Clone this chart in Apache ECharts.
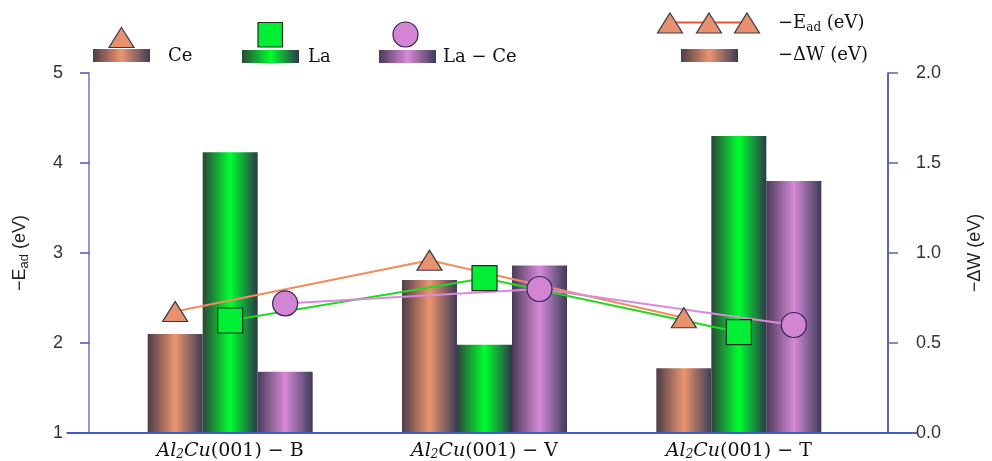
<!DOCTYPE html>
<html>
<head>
<meta charset="utf-8">
<script src="https://cdn.jsdelivr.net/npm/echarts@6/dist/echarts.min.js"></script>
<style>
  html, body { margin: 0; padding: 0; background: #ffffff; }
  #chart { width: 992px; height: 461px; }
</style>
</head>
<body>
<div id="chart"></div>
<script>
// Adsorption sites on the Al2Cu(001) surface
const sites = ['B', 'V', 'T'];
const dopants = ['Ce', 'La', 'La − Ce'];

// −ΔW (eV), drawn as bars on the right axis
const dWCe = [0.55, 0.85, 0.36];
const dWLa = [1.56, 0.49, 1.65];
const dWLaCe = [0.34, 0.93, 1.40];

// −E_ad (eV), drawn as marker lines on the left axis
const eadCe = [2.35, 2.92, 2.28];
const eadLa = [2.25, 2.72, 2.12];
const eadLaCe = [2.44, 2.60, 2.20];

// Axis ranges
const leftMin = 1, leftMax = 5, leftStep = 1;
const rightMin = 0, rightMax = 2, rightStep = 0.5;

const chart = echarts.init(document.getElementById('chart'));
const G = echarts.graphic;

function barGrad(edgeL, mid, edgeR) {
  return new G.LinearGradient(0, 0, 1, 0, [
    { offset: 0, color: edgeL },
    { offset: 0.5, color: mid },
    { offset: 1, color: edgeR }
  ]);
}
const palette = {
  Ce:   { bar: ['#4e3d48', '#ec946f', '#3e3d58'], mark: '#e8916e', line: '#f08c5e', border: '#3a3a4a' },
  La:   { bar: ['#2c4638', '#00ff2e', '#2c3848'], mark: '#00ee33', line: '#22d822', border: '#1c2e1c' },
  LaCe: { bar: ['#4b3a58', '#d68ad6', '#3d3b5a'], mark: '#d384d3', line: '#d98ad9', border: '#2a2458' }
};

// Data grid geometry
const dataLeft = 103, dataRight = 126, gridTop = 73, gridBottom = 28;
const barW = 55;
const bandPx = (992 - dataLeft - dataRight) / sites.length;
const shift = barW / bandPx; // one bar width in category units

function linePoints(vals, k) {
  return vals.map((v, i) => [i + 0.5 + (k - 1) * shift, v]);
}

const serif = '"DejaVu Serif", "Liberation Serif", serif';
const sans = '"Liberation Sans", Arial, sans-serif';

const option = {
  backgroundColor: '#ffffff',
  animation: false,
  grid: [
    { left: 67, right: 75, top: gridTop, bottom: gridBottom },      // frame lines
    { left: 89, right: 97, top: gridTop, bottom: gridBottom },      // visible y axes
    { left: dataLeft, right: dataRight, top: gridTop, bottom: gridBottom } // data
  ],
  xAxis: [
    { gridIndex: 0, type: 'value', position: 'top', min: 0, max: 1,
      axisLine: { show: true, lineStyle: { color: '#2b2f86', width: 1.5 } },
      axisTick: { show: false }, axisLabel: { show: false }, splitLine: { show: false } },
    { gridIndex: 1, type: 'value', position: 'bottom', min: 0, max: 1, offset: 0,
      axisLine: { show: false }, axisTick: { show: false }, axisLabel: { show: false }, splitLine: { show: false } },
    { gridIndex: 2, type: 'category', data: sites, position: 'bottom',
      axisLine: { show: false }, axisTick: { show: false },
      axisLabel: {
        margin: 8, color: '#111',
        formatter: v => '{it|Al}{sub|2}{it|Cu}{up|(001) − ' + v + '}',
        rich: {
          it: { fontFamily: serif, fontStyle: 'italic', fontSize: 19, color: '#111' },
          sub: { fontFamily: serif, fontStyle: 'italic', fontSize: 12, color: '#111', verticalAlign: 'bottom', padding: [8, 0, 0, 0] },
          up: { fontFamily: serif, fontSize: 19, color: '#111' }
        }
      } },
    { gridIndex: 2, type: 'value', show: false, min: 0, max: sites.length },
    // bottom frame line, slightly shorter than the top one
    { gridIndex: 0, type: 'value', position: 'bottom', min: 0, max: 1,
      axisLine: { show: false }, axisTick: { show: false }, axisLabel: { show: false }, splitLine: { show: false } }
  ],
  yAxis: [
    { gridIndex: 0, type: 'value', show: false, min: 0, max: 1 },
    { gridIndex: 1, type: 'value', position: 'left', min: leftMin, max: leftMax, interval: leftStep,
      name: '{m|−E}{s|ad}{m| (eV)}', nameLocation: 'middle', nameGap: 58, nameRotate: 90,
      nameTextStyle: { rich: {
        m: { fontFamily: sans, fontSize: 18, color: '#222' },
        s: { fontFamily: sans, fontSize: 13, color: '#222', verticalAlign: 'bottom', padding: [8, 0, 0, 0] }
      } },
      axisLine: { show: true, lineStyle: { color: '#6f72bf', width: 1.5 } },
      axisTick: { show: true, inside: false, length: 9, lineStyle: { color: '#4d51b0', width: 1.5 } },
      axisLabel: { fontFamily: sans, fontSize: 18, color: '#333', margin: 26 },
      splitLine: { show: false } },
    { gridIndex: 1, type: 'value', position: 'right', min: rightMin, max: rightMax, interval: rightStep,
      name: '−ΔW (eV)', nameLocation: 'middle', nameGap: 78, nameRotate: 90,
      nameTextStyle: { fontFamily: sans, fontSize: 18, color: '#222' },
      axisLine: { show: true, lineStyle: { color: '#28308e', width: 1.5 } },
      axisTick: { show: true, inside: false, length: 10, lineStyle: { color: '#5a63b8', width: 1.5 } },
      axisLabel: { fontFamily: sans, fontSize: 18, color: '#333', margin: 28,
        formatter: v => v.toFixed(1) },
      splitLine: { show: false } },
    { gridIndex: 2, type: 'value', show: false, min: leftMin, max: leftMax },
    { gridIndex: 2, type: 'value', show: false, min: rightMin, max: rightMax }
  ],
  series: [
    { name: dopants[0], type: 'bar', xAxisIndex: 2, yAxisIndex: 4, data: dWCe,
      barWidth: barW, barGap: '0%', itemStyle: { color: barGrad(...palette.Ce.bar) } },
    { name: dopants[1], type: 'bar', xAxisIndex: 2, yAxisIndex: 4, data: dWLa,
      barWidth: barW, barGap: '0%', itemStyle: { color: barGrad(...palette.La.bar) } },
    { name: dopants[2], type: 'bar', xAxisIndex: 2, yAxisIndex: 4, data: dWLaCe,
      barWidth: barW, barGap: '0%', itemStyle: { color: barGrad(...palette.LaCe.bar) } },
    { name: dopants[0] + ' E', type: 'line', xAxisIndex: 3, yAxisIndex: 3, z: 5,
      data: linePoints(eadCe, 0), symbol: 'triangle', symbolSize: [25, 20],
      lineStyle: { color: palette.Ce.line, width: 2 },
      itemStyle: { color: palette.Ce.mark, borderColor: palette.Ce.border, borderWidth: 1.2 } },
    { name: dopants[1] + ' E', type: 'line', xAxisIndex: 3, yAxisIndex: 3, z: 5,
      data: linePoints(eadLa, 1), symbol: 'rect', symbolSize: 25,
      lineStyle: { color: palette.La.line, width: 2 },
      itemStyle: { color: palette.La.mark, borderColor: palette.La.border, borderWidth: 1.2 } },
    { name: dopants[2] + ' E', type: 'line', xAxisIndex: 3, yAxisIndex: 3, z: 5,
      data: linePoints(eadLaCe, 2), symbol: 'circle', symbolSize: 25,
      lineStyle: { color: palette.LaCe.line, width: 2 },
      itemStyle: { color: palette.LaCe.mark, borderColor: palette.LaCe.border, borderWidth: 1.2 } }
  ],
  graphic: []
};

// Legend: marker stacked above a bar swatch for each dopant
function swatch(x, y, cols) {
  return { type: 'rect', shape: { x: x, y: y, width: 57, height: 13 },
    style: { fill: barGrad(...cols) } };
}
function tri(cx, cy, fill, stroke) {
  return { type: 'polygon', shape: { points: [[cx, cy - 10], [cx + 12.5, cy + 10], [cx - 12.5, cy + 10]] },
    style: { fill: fill, stroke: stroke, lineWidth: 1.2 } };
}
function label(x, y, text) {
  return { type: 'text', x: x, y: y,
    style: { text: text, rich: legRich, fontFamily: serif, fontSize: 18, fill: '#111', verticalAlign: 'middle' } };
}
const legRich = {
  m: { fontFamily: serif, fontSize: 18, fill: '#111', color: '#111' },
  s: { fontFamily: serif, fontSize: 12, fill: '#111', color: '#111', verticalAlign: 'bottom', padding: [9, 0, 0, 0] }
};
option.graphic = [
  // bottom frame line
  { type: 'line', shape: { x1: 68, y1: 433, x2: 910, y2: 433 },
    style: { stroke: '#3d5bcc', lineWidth: 2 }, z: 10 },

  swatch(93, 49, palette.Ce.bar),
  tri(121.5, 37.5, palette.Ce.mark, palette.Ce.border),
  label(168, 56, '{m|' + dopants[0] + '}'),
  swatch(242, 50, palette.La.bar),
  { type: 'rect', shape: { x: 258, y: 22.5, width: 24.5, height: 24.5 },
    style: { fill: palette.La.mark, stroke: palette.La.border, lineWidth: 1.2 } },
  label(308, 57, '{m|' + dopants[1] + '}'),
  swatch(379, 50, palette.LaCe.bar),
  { type: 'circle', shape: { cx: 405.5, cy: 34.5, r: 12.5 },
    style: { fill: palette.LaCe.mark, stroke: palette.LaCe.border, lineWidth: 1.2 } },
  label(443, 57, '{m|' + dopants[2] + '}'),

  { type: 'line', shape: { x1: 670, y1: 22.5, x2: 747, y2: 22.5 },
    style: { stroke: '#e8553a', lineWidth: 2 } },
  tri(670, 23, palette.Ce.mark, palette.Ce.border),
  tri(709, 23, palette.Ce.mark, palette.Ce.border),
  tri(747, 23, palette.Ce.mark, palette.Ce.border),
  label(778, 23, '{m|−E}{s|ad}{m| (eV)}'),
  swatch(681, 49, palette.Ce.bar),
  label(778, 55, '{m|−ΔW (eV)}')
];

chart.setOption(option);
</script>
</body>
</html>
